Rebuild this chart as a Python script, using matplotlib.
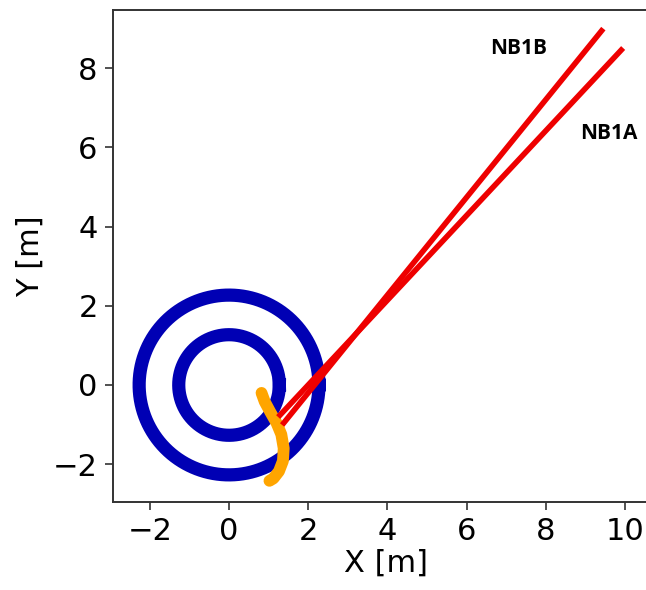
import numpy as np
import matplotlib
matplotlib.use("Agg")
import matplotlib.pyplot as plt

# ring radii [m], centred on the origin
ring_radii = [1.27, 2.27]

# beam lines: start and end points [m]
beam_names = ["NB1A", "NB1B"]
beam_x = [[1.24, 9.95], [1.34, 9.45]]
beam_y = [[-0.81, 8.51], [-1.01, 9.00]]

# beam label positions [m]
label_x = [9.60, 7.32]
label_y = [6.34, 8.51]

# orange trace
trace_x = [0.82, 0.90, 1.04, 1.20, 1.32, 1.38, 1.36, 1.26, 1.12, 1.02]
trace_y = [-0.20, -0.42, -0.68, -0.96, -1.25, -1.60, -1.92, -2.18, -2.36, -2.42]

fig = plt.figure(figsize=(6.46, 5.90), dpi=100)
ax = fig.add_axes([113 / 646, 88 / 590, 545 / 646, 492 / 590])

theta = np.linspace(0, 2 * np.pi, 400)
for r in ring_radii:
    ax.plot(r * np.cos(theta), r * np.sin(theta), color="#0000b4", lw=9.5)

ax.plot(trace_x, trace_y, color="#ffa500", lw=8.5, solid_capstyle="round",
        solid_joinstyle="round")

for name, bx, by, lx, ly in zip(beam_names, beam_x, beam_y, label_x, label_y):
    ax.plot(bx, by, color="#ee0000", lw=4, solid_capstyle="butt")
    ax.text(lx, ly, name, fontsize=15, fontweight="bold", family="Open Sans",
            ha="center", va="center")

ax.set_xlim(-2.93, 10.83)
ax.set_ylim(-2.955, 9.47)
ax.set_xticks([-2, 0, 2, 4, 6, 8, 10])
ax.set_yticks([-2, 0, 2, 4, 6, 8])
ax.tick_params(labelsize=22, length=6, width=1.2, pad=5, color="#333333")
ax.set_xlabel("X [m]", fontsize=22, labelpad=2)
ax.set_ylabel("Y [m]", fontsize=22, labelpad=6)
for s in ax.spines.values():
    s.set_linewidth(1.4)
    s.set_color("#333333")

fig.savefig("out.png", dpi=100)
